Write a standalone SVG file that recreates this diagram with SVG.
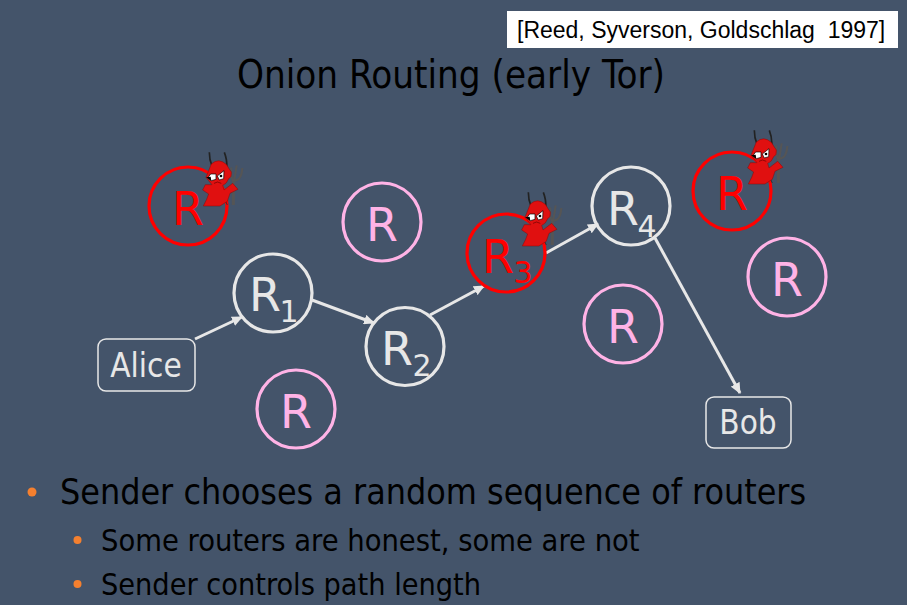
<svg xmlns="http://www.w3.org/2000/svg" width="907" height="605" viewBox="0 0 907 605">
<style>
text{font-family:"DejaVu Sans Condensed","DejaVu Sans",sans-serif}
.ink{fill:#000}
.c{fill:none;stroke-width:3.2}
.w{stroke:#e7e7e7}.p{stroke:#ffb3e6}.r{stroke:#f00}
.big{font-size:46px;text-anchor:middle;font-family:"DejaVu Sans",sans-serif}
.sub{font-size:30px;text-anchor:middle;font-family:"DejaVu Sans",sans-serif}
.tw{fill:#e7e7e7}.tp{fill:#ffb3e6}.tr{fill:#f00}
.box{fill:none;stroke:#e7e7e7;stroke-width:1.5}
.lab{font-size:33px;fill:#e7e7e7;text-anchor:middle}
.cn{stroke:#e7e7e7;stroke-width:3;fill:none;marker-end:url(#ah)}
.bul{fill:#f5802f}
</style>
<defs>
<marker id="ah" markerUnits="userSpaceOnUse" markerWidth="12" markerHeight="10" refX="10" refY="5" orient="auto"><path d="M0 0L11 5L0 10Z" fill="#e7e7e7"/></marker>
<g id="devil">
<path d="M208 37Q208 60 216 78M253 37Q262 60 260 82" stroke="#222" stroke-width="5" fill="none"/>
<path d="M280 112V195" stroke="#555" stroke-width="9" fill="none"/>
<path d="M274 82Q272 122 282 122Q305 122 307 84M290 76L283 120" stroke="#555" stroke-width="6" fill="none"/>
<path d="M250 170L262 195" stroke="#333" stroke-width="3" fill="none"/>
<path d="M214 72Q236 52 260 74Q268 88 274 96Q276 112 266 116Q260 132 248 136L252 150L278 130L294 148L270 160L262 184L240 198H190L200 178L206 162L188 150L196 134L216 134L206 122L198 112Z" fill="#e01010" stroke="#8a0808" stroke-width="1.5"/>
<path d="M203 114L212 102L228 102L228 118L214 122Z" fill="#fff" stroke="#000" stroke-width="2"/>
<path d="M232 108L252 92L251 116L238 120Z" fill="#fff" stroke="#000" stroke-width="2"/>
<path d="M198 112L212 110L214 122Z" fill="#000"/>
<circle cx="243" cy="108" r="4" fill="#000"/>
<path d="M222 130Q232 122 244 130" stroke="#600" stroke-width="2" fill="none"/>
</g>
</defs>
<rect width="907" height="605" fill="#44546a"/>
<g id="citation"><rect x="507" y="11" width="391" height="37" fill="#fff"/><text x="517" y="38" font-size="23" style="font-family:'Liberation Sans',sans-serif" class="ink" xml:space="preserve">[Reed, Syverson, Goldschlag  1997]</text></g>
<text id="title" x="451" y="88" font-size="38.200" text-anchor="middle" class="ink">Onion Routing (early Tor)</text>
<g id="connectors">
<path class="cn" d="M195 339L242 317"/>
<path class="cn" d="M312 300L374 323"/>
<path class="cn" d="M430 315L484 286"/>
<path class="cn" d="M546 253L598 224"/>
<path class="cn" d="M655 238L740 393"/>
</g>
<g id="alice"><rect class="box" x="98" y="339" width="97" height="52" rx="8"/><text class="lab" x="146" y="377">Alice</text></g>
<g id="bob"><rect class="box" x="706" y="397" width="85" height="51" rx="8"/><text class="lab" x="748" y="434">Bob</text></g>
<g id="r-a"><circle class="c r" cx="188" cy="206" r="39"/><text class="big tr" x="188" y="225">R</text><use href="#devil" transform="translate(140 140) scale(.3333)"/></g>
<g id="r-b"><circle class="c p" cx="382" cy="222" r="39"/><text class="big tp" x="382" y="241">R</text></g>
<g id="r1"><circle class="c w" cx="273" cy="293" r="39"/><text class="big tw" x="265" y="311">R</text><text class="sub tw" x="289" y="322">1</text></g>
<g id="r2"><circle class="c w" cx="405" cy="346.500" r="39"/><text class="big tw" x="397" y="365">R</text><text class="sub tw" x="422" y="376">2</text></g>
<g id="r3"><circle class="c r" cx="506" cy="253" r="39"/><text class="big tr" x="498" y="273">R</text><text class="sub tr" x="523" y="283">3</text><use href="#devil" transform="translate(459 180) scale(.3333)"/></g>
<g id="r4"><circle class="c w" cx="631" cy="206" r="39"/><text class="big tw" x="623" y="225">R</text><text class="sub tw" x="647" y="237">4</text></g>
<g id="r-c"><circle class="c r" cx="732" cy="191" r="39"/><text class="big tr" x="732" y="210">R</text><use href="#devil" transform="translate(685 118) scale(.3333)"/></g>
<g id="r-d"><circle class="c p" cx="787" cy="277" r="39"/><text class="big tp" x="787" y="296">R</text></g>
<g id="r-e"><circle class="c p" cx="623" cy="324" r="39"/><text class="big tp" x="623" y="343">R</text></g>
<g id="r-f"><circle class="c p" cx="296" cy="409" r="39"/><text class="big tp" x="296" y="428">R</text></g>
<g id="bullets">
<circle class="bul" cx="32" cy="492" r="4.500"/><text class="ink" x="60" y="504" font-size="35.500">Sender chooses a random sequence of routers</text>
<circle class="bul" cx="77.500" cy="540" r="4"/><text class="ink" x="101" y="551" font-size="30.500">Some routers are honest, some are not</text>
<circle class="bul" cx="77.500" cy="584" r="4"/><text class="ink" x="101" y="595" font-size="30.300">Sender controls path length</text>
</g>
</svg>
